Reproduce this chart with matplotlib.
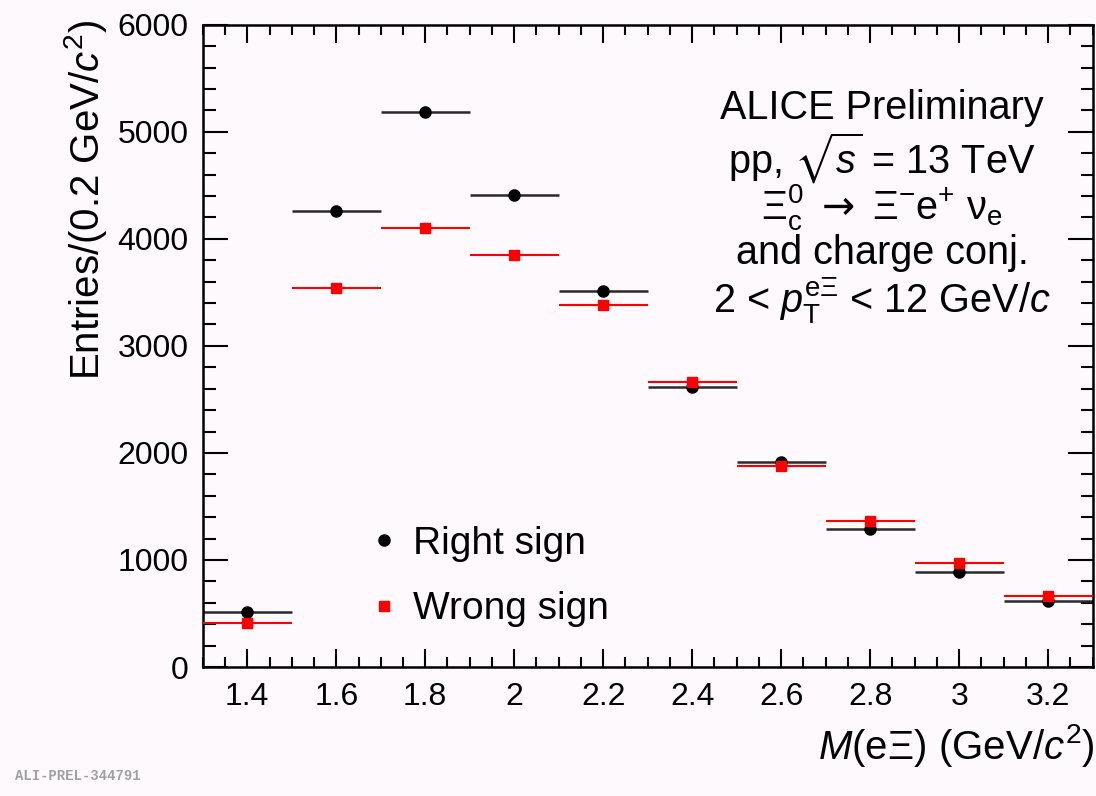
import numpy as np
import matplotlib
matplotlib.use("Agg")
import matplotlib.pyplot as plt
from matplotlib.lines import Line2D
from matplotlib.ticker import MultipleLocator

plt.rcParams['font.family'] = ['Liberation Sans', 'DejaVu Sans']
plt.rcParams['mathtext.fontset'] = 'custom'
plt.rcParams['mathtext.rm'] = 'Liberation Sans'
plt.rcParams['mathtext.it'] = 'Liberation Sans:italic'
plt.rcParams['mathtext.bf'] = 'Liberation Sans:bold'
plt.rcParams['mathtext.sf'] = 'DejaVu Sans'
plt.rcParams['mathtext.fallback'] = 'stix'

# data
mass = [1.4, 1.6, 1.8, 2.0, 2.2, 2.4, 2.6, 2.8, 3.0, 3.2]
bin_half = 0.1
right_sign = [517, 4262, 5187, 4411, 3517, 2620, 1916, 1293, 888, 620]
wrong_sign = [414, 3540, 4103, 3850, 3377, 2664, 1881, 1367, 969, 664]

bg = '#fdf9fd'
fig = plt.figure(figsize=(10.96, 7.96), dpi=100, facecolor=bg)
ax = fig.add_axes([0.185, 0.162, 0.812, 0.807])
ax.set_facecolor(bg)

ax.errorbar(mass, wrong_sign, xerr=bin_half, fmt='s', color='red', ms=7.5,
            ecolor='red', elinewidth=1.5, capsize=0, zorder=3)
ax.errorbar(mass, right_sign, xerr=bin_half, fmt='o', color='black', ms=8,
            ecolor='#2a2a2a', elinewidth=1.8, capsize=0, zorder=2)

ax.set_xlim(1.3, 3.3)
ax.set_ylim(0, 6000)
ax.xaxis.set_major_locator(MultipleLocator(0.2))
ax.xaxis.set_minor_locator(MultipleLocator(0.05))
ax.yaxis.set_major_locator(MultipleLocator(1000))
ax.yaxis.set_minor_locator(MultipleLocator(200))
ax.set_xticks([1.4, 1.6, 1.8, 2.0, 2.2, 2.4, 2.6, 2.8, 3.0, 3.2])
ax.set_xticklabels(['1.4', '1.6', '1.8', '2', '2.2', '2.4', '2.6', '2.8', '3', '3.2'])

ax.tick_params(which='both', direction='in', top=True, right=True, width=1.5, labelsize=23)
ax.tick_params(axis='x', which='major', length=13, pad=11)
ax.tick_params(axis='x', which='minor', length=7)
ax.tick_params(axis='y', which='major', length=18, pad=10)
ax.tick_params(axis='y', which='minor', length=9)
for s in ax.spines.values():
    s.set_linewidth(1.8)

ax.set_xlabel(r'$M$(eΞ) (GeV/$c^{2}$)', fontsize=29, loc='right')
ax.xaxis.set_label_coords(1.002, -0.085)
ax.set_ylabel(r'Entries/(0.2 GeV/$c^{2}$)', fontsize=29, loc='top')
ax.yaxis.set_label_coords(-0.105, 1.008)

# annotation
lines = ['ALICE Preliminary',
         r'pp, $\sqrt{s}$ = 13 TeV',
         r'Ξ$_{\rm c}^{0}$ $\mathsf{\rightarrow}$ Ξ$^{-}$e$^{+}$ ν$_{\rm e}$',
         'and charge conj.',
         r'2 < $p_{\rm T}^{\rm e\Xi}$ < 12 GeV/$c$']
ys = [108, 158, 207, 253, 300]
for t, y in zip(lines, ys):
    fig.text(882 / 1096, 1 - y / 796, t, fontsize=28.5, ha='center', va='center')

# legend
handles = [Line2D([], [], ls='none', marker='o', color='black', ms=8),
           Line2D([], [], ls='none', marker='s', color='red', ms=7.5)]
leg = ax.legend(handles, ['Right sign', 'Wrong sign'], loc='upper left',
                bbox_to_anchor=(372 / 1096, 1 - 526 / 796), bbox_transform=fig.transFigure,
                frameon=False, fontsize=28, handlelength=0.6, handletextpad=0.45,
                labelspacing=0.75, borderpad=0, borderaxespad=0)

fig.text(0.014, 0.02, 'ALI-PREL-344791', fontsize=10, family='Liberation Mono',
         weight='bold', color='#a0a0a0')

fig.savefig('out.png', dpi=100, facecolor=bg)
